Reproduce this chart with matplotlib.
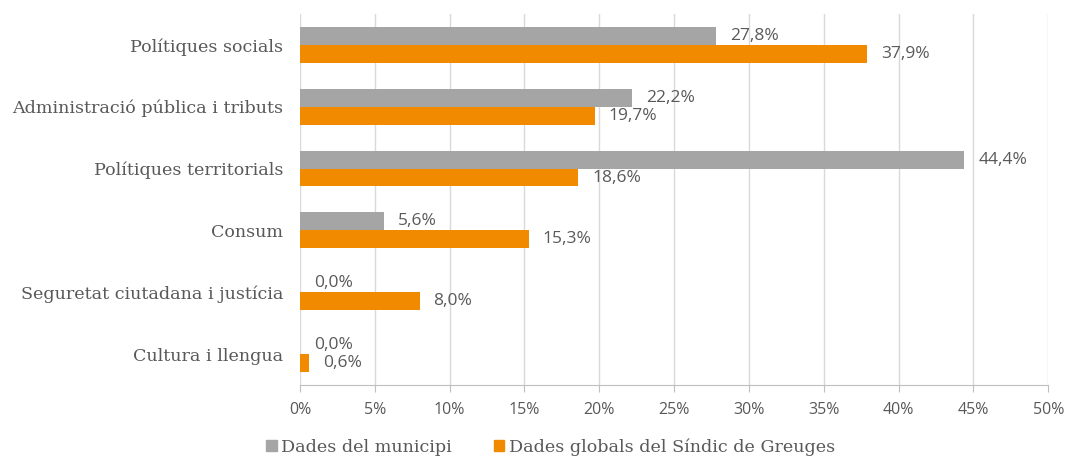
import numpy as np
import matplotlib.pyplot as plt
from matplotlib.patches import Patch

categories = ['Polítiques socials', 'Administració pública i tributs', 'Polítiques territorials',
              'Consum', 'Seguretat ciutadana i justícia', 'Cultura i llengua']
municipi = [27.8, 22.2, 44.4, 5.6, 0.0, 0.0]
sindic = [37.9, 19.7, 18.6, 15.3, 8.0, 0.6]
series_names = ['Dades del municipi', 'Dades globals del Síndic de Greuges']
xticks = [0, 5, 10, 15, 20, 25, 30, 35, 40, 45, 50]

gray = '#a5a5a5'
orange = '#f28a00'
txt = '#595959'
serif = 'DejaVu Serif'
sans = 'Open Sans'

fig = plt.figure(figsize=(10.69, 4.57), dpi=100)
ax = fig.add_axes([0.2806, 0.1575, 0.70, 0.812])

y = np.arange(len(categories))
h = 0.29
b1 = ax.barh(y - h / 2, municipi, height=h, color=gray, zorder=3)
b2 = ax.barh(y + h / 2, sindic, height=h, color=orange, zorder=3)

for bars, vals in [(b1, municipi), (b2, sindic)]:
    for bar, v in zip(bars, vals):
        ax.annotate(f'{v:.1f}%'.replace('.', ','),
                    xy=(bar.get_width(), bar.get_y() + bar.get_height() / 2),
                    xytext=(10, 0), textcoords='offset points',
                    va='center', ha='left', fontsize=12.5, color=txt, family=sans)

ax.set_xlim(0, 50)
ax.set_ylim(len(categories) - 0.5, -0.5)
ax.set_xticks(xticks)
ax.set_xticklabels([f'{t}%' for t in xticks], fontsize=11.5, color=txt, family=sans)
ax.set_yticks(y)
ax.set_yticklabels(categories, fontsize=12.6, color=txt, family=serif)

ax.grid(axis='x', color='#d9d9d9', linewidth=1, zorder=0)
for s in ['top', 'right', 'left']:
    ax.spines[s].set_visible(False)
ax.spines['bottom'].set_color('#bfbfbf')
ax.tick_params(axis='y', length=0, pad=12)
ax.tick_params(axis='x', length=5, color='#bfbfbf', pad=7)

handles = [Patch(color=gray, label=series_names[0]), Patch(color=orange, label=series_names[1])]
fig.legend(handles=handles, loc='lower center', bbox_to_anchor=(0.515, -0.032), ncol=2,
           frameon=False, handlelength=0.6, handleheight=0.6, handletextpad=0.25,
           columnspacing=2.4, prop={'family': serif, 'size': 12.6}, labelcolor=txt)

fig.savefig('out.png', dpi=100)
